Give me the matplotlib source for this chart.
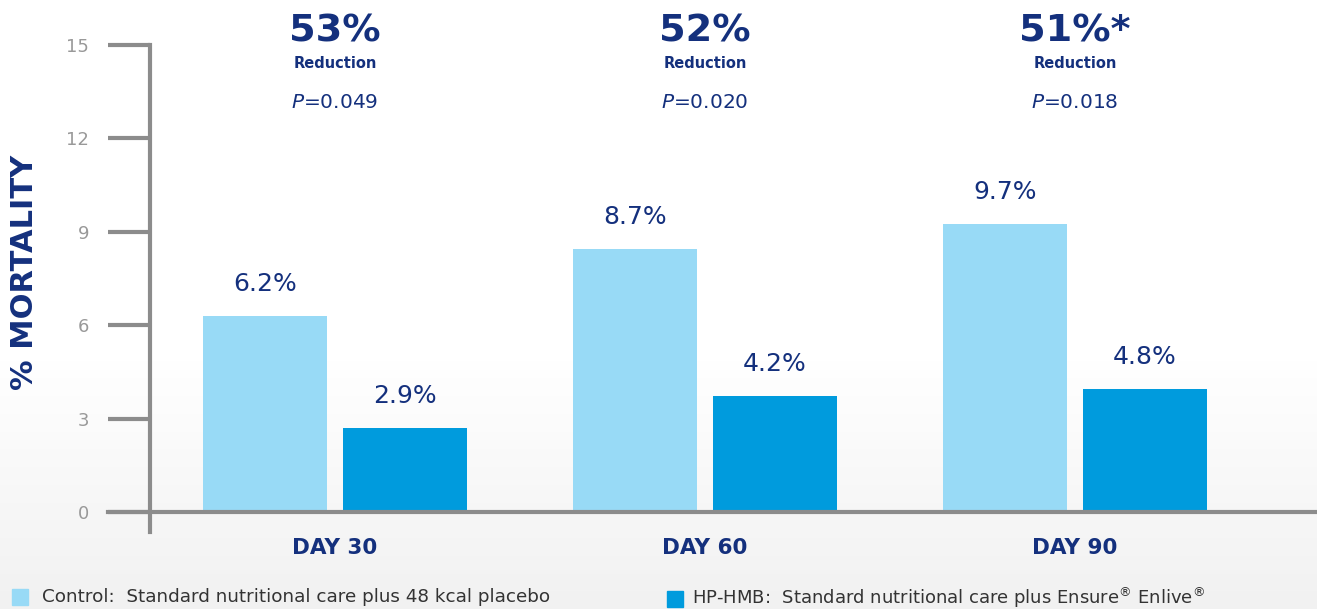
import matplotlib
matplotlib.use("Agg")
import matplotlib.pyplot as plt
import numpy as np

categories = ["DAY 30", "DAY 60", "DAY 90"]
control_heights = [6.3, 8.45, 9.25]
hmb_heights = [2.7, 3.73, 3.95]
control_labels = ["6.2%", "8.7%", "9.7%"]
hmb_labels = ["2.9%", "4.2%", "4.8%"]
reductions = ["53%", "52%", "51%*"]
pvalues = ["0.049", "0.020", "0.018"]
yticks = [0, 3, 6, 9, 12, 15]
legend_labels = ["Control:  Standard nutritional care plus 48 kcal placebo",
                 "HP-HMB:  Standard nutritional care plus Ensure$^{®}$ Enlive$^{®}$"]

NAVY = "#14307D"
LIGHT = "#98DAF6"
DARK = "#009BDD"
GRAY = "#8C8C8C"
FONT = "DejaVu Sans"
plt.rcParams["font.family"] = [FONT]

W, H = 1317, 609
fig = plt.figure(figsize=(W / 100, H / 100), dpi=100)

# background gradient (vertical)
bg = fig.add_axes([0, 0, 1, 1], zorder=-10)
ys = np.arange(H)
vals = np.where(ys < 360, 1.0, 1.0 - (ys - 360) / (H - 360) * 0.055)
img = np.repeat(vals[:, None, None], 3, axis=2)
bg.imshow(img, aspect="auto", extent=[0, 1, 0, 1])
bg.axis("off")

def px(x0, y0, x1, y1):
    return [x0 / W, 1 - y1 / H, (x1 - x0) / W, (y1 - y0) / H]

ax = fig.add_axes(px(150, 45, 1317, 532))
ax.patch.set_alpha(0)
unit = (512 - 45) / 15.0
ax.set_ylim(-(532 - 512) / unit, 15)
spacing = 370.0
ax.set_xlim(-(335 - 150) / spacing, (1317 - 335) / spacing)

x = np.arange(len(categories))
bw = 124 / spacing
off = 70 / spacing
ax.bar(x - off, control_heights, bw, color=LIGHT, zorder=2)
ax.bar(x + off, hmb_heights, bw, color=DARK, zorder=2)

lab_off = 32 / unit
for i in range(len(categories)):
    ax.text(x[i] - off, control_heights[i] + lab_off, control_labels[i], ha="center", va="center",
            fontsize=18, color=NAVY)
    ax.text(x[i] + off, hmb_heights[i] + lab_off, hmb_labels[i], ha="center", va="center",
            fontsize=18, color=NAVY)

for s in ["top", "right", "bottom"]:
    ax.spines[s].set_visible(False)
ax.spines["left"].set_color(GRAY)
ax.spines["left"].set_linewidth(3)
ax.axhline(0, xmin=-(150 - 108) / 1167, xmax=1, color=GRAY, lw=3, clip_on=False, zorder=3)

ax.set_yticks(yticks)
ax.set_yticklabels([str(t) for t in yticks])
ax.tick_params(axis="y", length=30, width=3, color=GRAY, labelcolor="#999999",
               labelsize=13, pad=14)
ax.set_xticks(x)
ax.set_xticklabels(categories)
ax.tick_params(axis="x", length=0, labelsize=15.5, labelcolor=NAVY, pad=4)
for lab in ax.get_xticklabels():
    lab.set_fontweight("bold")

# y label
fig.text(25 / W, 1 - 272 / H, "% MORTALITY", rotation=90, ha="center", va="center",
         fontsize=22, fontweight="bold", color=NAVY)

# reductions header
for i in range(len(categories)):
    cx = (335 + i * spacing) / W
    fig.text(cx, 1 - 31 / H, reductions[i], ha="center", va="center", fontsize=27.5,
             fontweight="bold", color=NAVY)
    fig.text(cx, 1 - 63 / H, "Reduction", ha="center", va="center", fontsize=10.5,
             fontweight="bold", color=NAVY)
    fig.text(cx, 1 - 102 / H, "$\\mathit{P}$=" + pvalues[i], ha="center", va="center",
             fontsize=14.5, color=NAVY)

# legend
fig.patches.append(plt.Rectangle((12 / W, 1 - 605 / H), 16 / W, 16 / H, transform=fig.transFigure,
                                 color=LIGHT, figure=fig))
fig.text(42 / W, 1 - 597 / H, legend_labels[0], ha="left", va="center", fontsize=13.2, color="#333333")
fig.patches.append(plt.Rectangle((667 / W, 1 - 607 / H), 16 / W, 16 / H, transform=fig.transFigure,
                                 color=DARK, figure=fig))
fig.text(692 / W, 1 - 598 / H, legend_labels[1], ha="left", va="center", fontsize=13, color="#333333")

fig.savefig("out.png", dpi=100)
